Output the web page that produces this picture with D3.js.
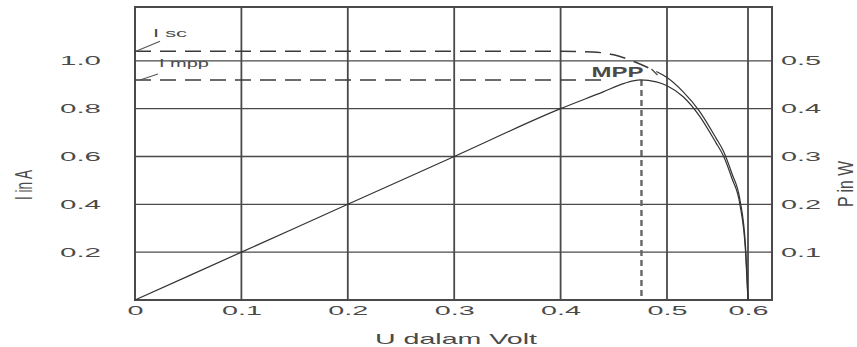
<!DOCTYPE html>
<html>
<head>
<meta charset="utf-8">
<script src="https://cdn.jsdelivr.net/npm/d3@7"></script>
<style>
  body { margin: 0; background: #fff; }
  svg text { font-family: "Liberation Sans", Arial, sans-serif; fill: #4a4a4a; }
</style>
</head>
<body>
<svg id="chart" width="857" height="347"></svg>
<script>
// tick values
var uTicks = [0, 0.1, 0.2, 0.3, 0.4, 0.5, 0.6];
var iTicks = [0.2, 0.4, 0.6, 0.8, 1.0];
var pTicks = [0.1, 0.2, 0.3, 0.4, 0.5];
var uLabels = ["0", "0.1", "0.2", "0.3", "0.4", "0.5", "0.6"];
var iLabels = ["0.2", "0.4", "0.6", "0.8", "1.0"];
var pLabels = ["0.1", "0.2", "0.3", "0.4", "0.5"];

// I-U curve (A)
var curveU = [0, 0.1, 0.2, 0.3, 0.4, 0.43, 0.45, 0.47, 0.49, 0.5, 0.52, 0.54, 0.56, 0.57, 0.58, 0.59, 0.597, 0.6];
var curveI = [1.04, 1.04, 1.04, 1.04, 1.04, 1.037, 1.025, 0.995, 0.955, 0.93, 0.87, 0.79, 0.68, 0.62, 0.53, 0.42, 0.22, 0];

// P-U curve (W)
var powerU = [0, 0.1, 0.2, 0.3, 0.4, 0.44, 0.46, 0.475, 0.49, 0.5, 0.52, 0.54, 0.56, 0.57, 0.58, 0.59, 0.597, 0.6];
var powerP = [0, 0.1, 0.2, 0.3, 0.4, 0.435, 0.453, 0.46, 0.456, 0.448, 0.425, 0.385, 0.33, 0.3, 0.255, 0.2, 0.1, 0];

// characteristic points
var iSc = 1.04;
var iMpp = 0.92;
var uMpp = 0.476;

var svg = d3.select("#chart");

// 0..0.5 spacing is wider than the last step in the original drawing
var x = d3.scaleLinear().domain([0, 0.5, 0.6, 0.63]).range([135, 667, 748, 772]);
var yI = d3.scaleLinear().domain([0, 1.225]).range([300, 7]);
var yP = d3.scaleLinear().domain([0, 0.6125]).range([300, 7]);

var gridColor = "#4a4a4a";

// grid
svg.append("g").selectAll("line")
    .data(iTicks)
    .enter().append("line")
    .attr("x1", x(0)).attr("x2", x(0.63))
    .attr("y1", function (d) { return yI(d); })
    .attr("y2", function (d) { return yI(d); })
    .attr("stroke", gridColor).attr("stroke-width", 1.3);

svg.append("g").selectAll("line")
    .data(uTicks.slice(1))
    .enter().append("line")
    .attr("x1", function (d) { return x(d); })
    .attr("x2", function (d) { return x(d); })
    .attr("y1", yI(0)).attr("y2", yI(1.225))
    .attr("stroke", gridColor).attr("stroke-width", 1.8);

// frame
svg.append("rect")
    .attr("x", x(0)).attr("y", yI(1.225))
    .attr("width", x(0.63) - x(0)).attr("height", yI(0) - yI(1.225))
    .attr("fill", "none").attr("stroke", gridColor).attr("stroke-width", 2);

// axes (labels only)
function styleTicks(g, len) {
    g.select(".domain").remove();
    g.selectAll("text")
        .attr("font-size", 13)
        .attr("fill", "#4a4a4a")
        .attr("textLength", function () { return this.textContent.length > 1 ? len : 16; })
        .attr("lengthAdjust", "spacingAndGlyphs");
}

svg.append("g")
    .attr("transform", "translate(" + x(0) + ",0)")
    .call(d3.axisLeft(yI).tickValues(iTicks).tickSize(0).tickPadding(34)
        .tickFormat(function (d, i) { return iLabels[i]; }))
    .call(styleTicks, 41);

svg.append("g")
    .attr("transform", "translate(" + x(0.63) + ",0)")
    .call(d3.axisRight(yP).tickValues(pTicks).tickSize(0).tickPadding(9)
        .tickFormat(function (d, i) { return pLabels[i]; }))
    .call(styleTicks, 40);

svg.append("g")
    .attr("transform", "translate(0," + yI(0) + ")")
    .call(d3.axisBottom(x).tickValues(uTicks).tickSize(0).tickPadding(6)
        .tickFormat(function (d, i) { return uLabels[i]; }))
    .call(styleTicks, 40);

// dashed reference lines
var dashColor = "#3a3a3a";
svg.append("line")
    .attr("x1", x(0)).attr("x2", x(0.44))
    .attr("y1", yI(iMpp)).attr("y2", yI(iMpp))
    .attr("stroke", dashColor).attr("stroke-width", 1.5)
    .attr("stroke-dasharray", "16,9");

svg.append("line")
    .attr("x1", x(uMpp)).attr("x2", x(uMpp))
    .attr("y1", yI(iMpp)).attr("y2", yI(0))
    .attr("stroke", "#666").attr("stroke-width", 2.4)
    .attr("stroke-dasharray", "6,4");

// I-U curve: dashed up to MPP, solid after
var curve = curveU.map(function (u, i) { return [u, curveI[i]]; });
var lineI = d3.line()
    .x(function (d) { return x(d[0]); })
    .y(function (d) { return yI(d[1]); })
    .curve(d3.curveMonotoneX);

svg.append("path")
    .datum(curve.filter(function (d) { return d[0] <= 0.49; }))
    .attr("d", lineI)
    .attr("fill", "none").attr("stroke", dashColor).attr("stroke-width", 1.5)
    .attr("stroke-dasharray", "16,9");

svg.append("path")
    .datum(curve.filter(function (d) { return d[0] >= 0.49; }))
    .attr("d", lineI)
    .attr("fill", "none").attr("stroke", "#333").attr("stroke-width", 1.2);

// P-U curve
var power = powerU.map(function (u, i) { return [u, powerP[i]]; });
var lineP = d3.line()
    .x(function (d) { return x(d[0]); })
    .y(function (d) { return yP(d[1]); })
    .curve(d3.curveMonotoneX);

svg.append("path")
    .datum(power)
    .attr("d", lineP)
    .attr("fill", "none").attr("stroke", "#333").attr("stroke-width", 1.2);

// annotations
svg.append("line")
    .attr("x1", x(0) + 1).attr("y1", yI(iSc))
    .attr("x2", x(0) + 25).attr("y2", yI(iSc) - 10)
    .attr("stroke", "#555").attr("stroke-width", 1.2);
svg.append("text")
    .attr("x", x(0) + 18).attr("y", yI(iSc) - 14)
    .attr("font-size", 11).attr("textLength", 34).attr("lengthAdjust", "spacingAndGlyphs")
    .text("I sc");

svg.append("line")
    .attr("x1", x(0) + 5).attr("y1", yI(iMpp))
    .attr("x2", x(0) + 23).attr("y2", yI(iMpp) - 6)
    .attr("stroke", "#555").attr("stroke-width", 1.2);
svg.append("text")
    .attr("x", x(0) + 24).attr("y", yI(iMpp) - 13)
    .attr("font-size", 11).attr("textLength", 50).attr("lengthAdjust", "spacingAndGlyphs")
    .text("I mpp");

svg.append("text")
    .attr("x", x(uMpp) - 50).attr("y", yI(iMpp) - 3)
    .attr("font-size", 14).attr("font-weight", "bold")
    .attr("textLength", 52).attr("lengthAdjust", "spacingAndGlyphs")
    .attr("fill", "#666")
    .text("MPP");
svg.append("line")
    .attr("x1", x(uMpp) + 10).attr("y1", yI(iMpp) - 11)
    .attr("x2", x(uMpp) + 16).attr("y2", yI(iMpp) - 5)
    .attr("stroke", "#444").attr("stroke-width", 1.2);

// axis titles (stretched across like the scanned original)
svg.append("text")
    .attr("transform", "translate(32,185) rotate(-90) scale(1,1.8)")
    .attr("text-anchor", "middle")
    .attr("font-size", 13).attr("textLength", 30).attr("lengthAdjust", "spacingAndGlyphs")
    .text("I in A");

svg.append("text")
    .attr("transform", "translate(853,184) rotate(-90) scale(1,1.7)")
    .attr("text-anchor", "middle")
    .attr("font-size", 13).attr("textLength", 46).attr("lengthAdjust", "spacingAndGlyphs")
    .text("P in W");

svg.append("text")
    .attr("x", 456).attr("y", 344)
    .attr("text-anchor", "middle")
    .attr("font-size", 15).attr("textLength", 162).attr("lengthAdjust", "spacingAndGlyphs")
    .text("U dalam Volt");
</script>
</body>
</html>
